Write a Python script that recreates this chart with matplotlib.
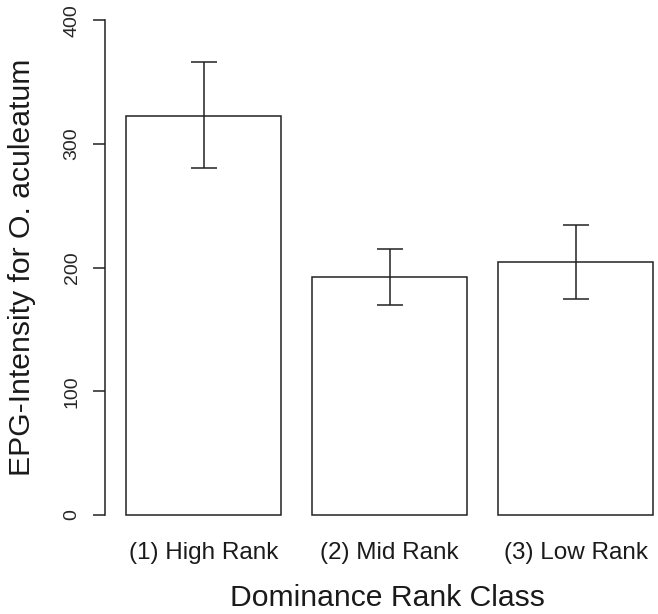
import matplotlib
matplotlib.use("Agg")
import matplotlib.pyplot as plt
import numpy as np

categories = ["(1) High Rank", "(2) Mid Rank", "(3) Low Rank"]
means = [322.6, 192.3, 204.9]
err_upper = [366.0, 215.1, 234.8]
err_lower = [281.0, 169.6, 174.4]
yticks = [0, 100, 200, 300, 400]

plt.rcParams['font.family'] = ['Liberation Sans', 'DejaVu Sans']

W, H = 658, 614
fig = plt.figure(figsize=(W / 100, H / 100), dpi=100)
# axes pixel box
left_px, right_px = 95, 658
ylo, yhi = -12, 410
y0_px, scale = 515.0, 1.2365
top_px = y0_px - (yhi - 0) * scale
bot_px = y0_px - (ylo - 0) * scale
ax = fig.add_axes([left_px / W, 1 - bot_px / H, (right_px - left_px) / W, (bot_px - top_px) / H])

width = 1.0
space = 0.2
x = np.array([space + i * (width + space) + width / 2 for i in range(len(categories))])
lc = '#222222'
ax.bar(x, means, width=width, color='white', edgecolor=lc, linewidth=1.1)
m = np.array(means)
yerr = np.array([m - np.array(err_lower), np.array(err_upper) - m])
ax.errorbar(x, means, yerr=yerr, fmt='none', ecolor=lc, elinewidth=1.1, capsize=9.4, capthick=1.1)

ax.set_xlim(0, (right_px - left_px) / 155.0)
ax.set_ylim(ylo, yhi)
for s in ['top', 'right', 'bottom']:
    ax.spines[s].set_visible(False)
ax.spines['left'].set_position(('data', 10 / 155.0))
ax.spines['left'].set_bounds(0, 400)
ax.spines['left'].set_color(lc)
ax.spines['left'].set_linewidth(1.1)
ax.set_yticks(yticks)
ax.set_yticklabels([str(v) for v in yticks], rotation=90, va='center', fontsize=14, color='#262626')
ax.tick_params(axis='y', length=8.6, width=1.1, color=lc, pad=9)
ax.set_xticks(x)
ax.set_xticklabels(categories, fontsize=17.5, color='#1a1a1a')
ax.tick_params(axis='x', length=0, pad=8.5)

fig.text(387 / W, 1 - 598 / H, "Dominance Rank Class", fontsize=21.7, ha='center', va='center', color='#1a1a1a')
fig.text(22 / W, 1 - 267 / H, "EPG-Intensity for O. aculeatum", fontsize=21.7, rotation=90, ha='center', va='center', color='#1a1a1a')

fig.savefig("out.png", dpi=100)
